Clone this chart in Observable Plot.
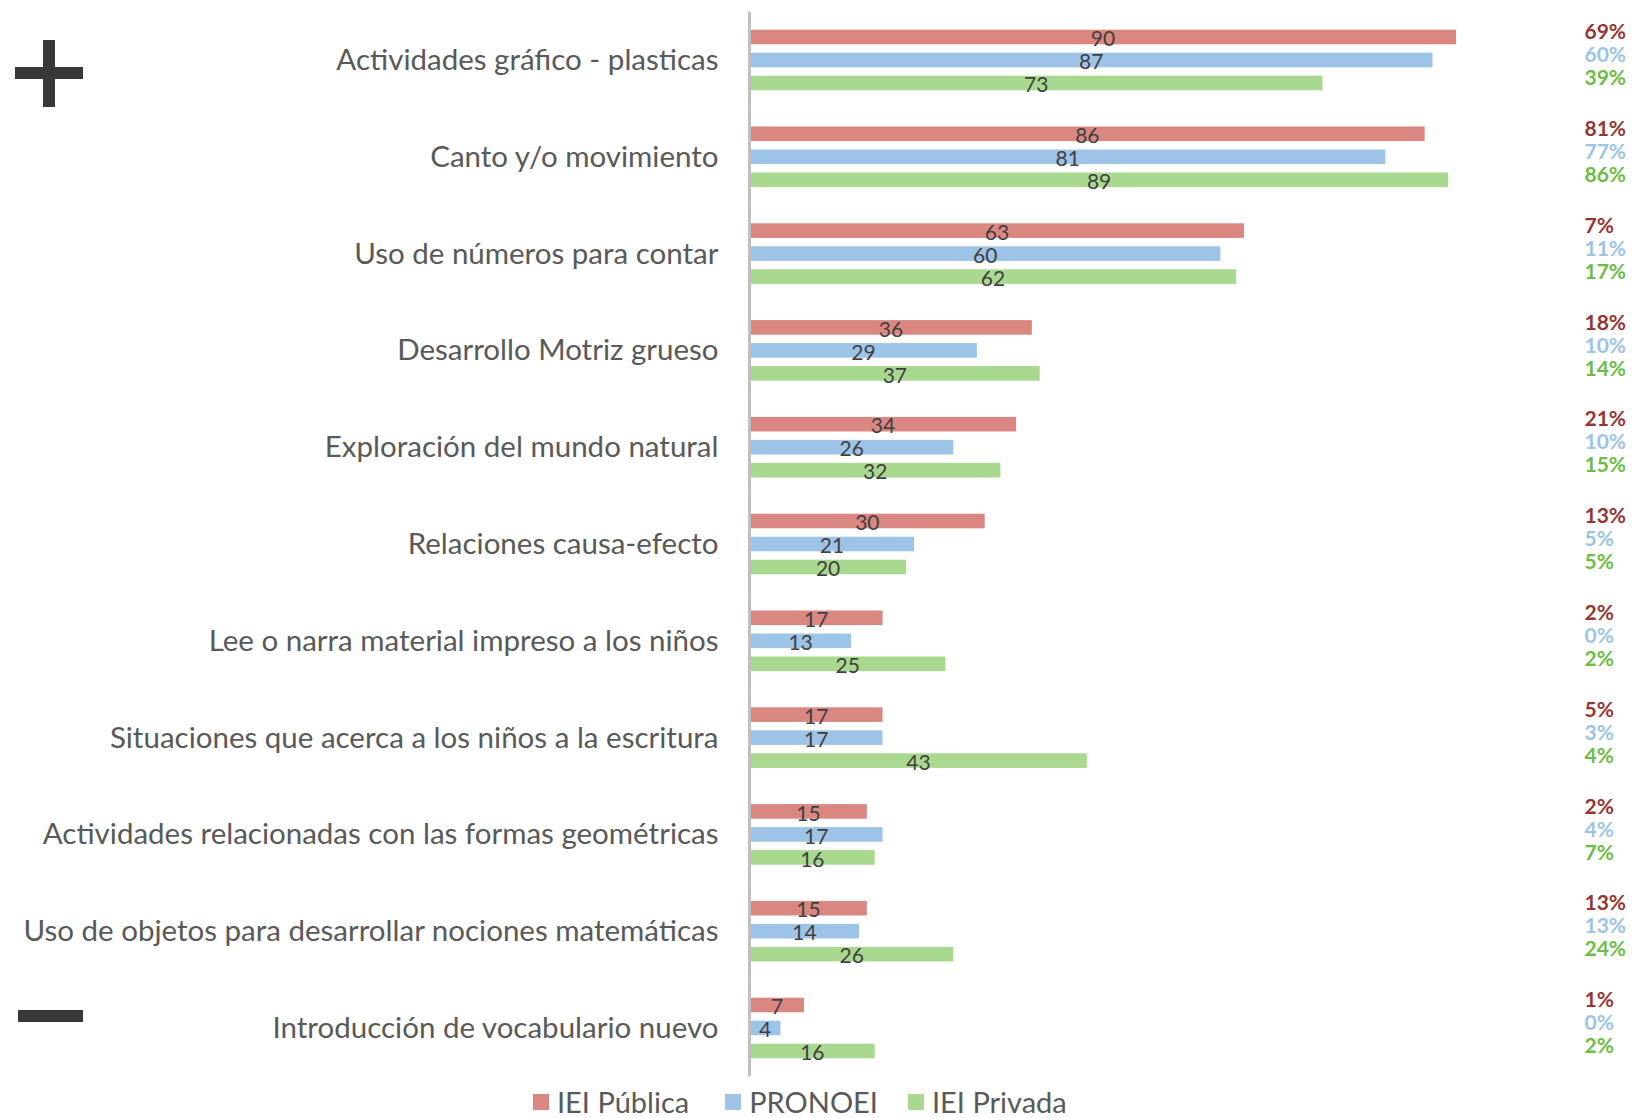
<!DOCTYPE html>
<html><head><meta charset="utf-8">
<script src="https://cdn.jsdelivr.net/npm/d3@7"></script>
<script src="https://cdn.jsdelivr.net/npm/@observablehq/plot@0.6"></script>
<style>
html,body{margin:0;padding:0;background:#fff}
body{width:1632px;height:1118px;overflow:hidden;position:relative;font-family:Lato,"Open Sans",sans-serif}
#chart{position:absolute;left:0;top:0}
.sign{position:absolute;background:#383838}
#legend{position:absolute;top:1088px;left:533px;display:flex;align-items:center;font-size:29px;color:#595959;line-height:28px;height:28px;white-space:nowrap}
#legend .item{display:flex;align-items:center;margin-right:36px}
#legend .item:nth-child(2){margin-right:30px}
#legend .sw{width:16px;height:16px;margin-right:8px}
</style></head>
<body>
<div id="chart"></div>
<div class="sign" style="left:15px;top:67px;width:68px;height:12px"></div>
<div class="sign" style="left:43px;top:40px;width:12px;height:67px"></div>
<div class="sign" style="left:18px;top:1010px;width:65px;height:12px"></div>
<div id="legend"></div>
<script>
const categories = [
  "Actividades gráfico - plasticas",
  "Canto y/o movimiento",
  "Uso de números para contar",
  "Desarrollo Motriz grueso",
  "Exploración del mundo natural",
  "Relaciones causa-efecto",
  "Lee o narra material impreso a los niños",
  "Situaciones que acerca a los niños a la escritura",
  "Actividades relacionadas con las formas geométricas",
  "Uso de objetos para desarrollar nociones matemáticas",
  "Introducción de vocabulario nuevo"
];
const series = ["IEI Pública", "PRONOEI", "IEI Privada"];
const publica = [90, 86, 63, 36, 34, 30, 17, 17, 15, 15, 7];
const pronoei = [87, 81, 60, 29, 26, 21, 13, 17, 17, 14, 4];
const privada = [73, 89, 62, 37, 32, 20, 25, 43, 16, 26, 16];
const pctPublica = [69, 81, 7, 18, 21, 13, 2, 5, 2, 13, 1];
const pctPronoei = [60, 77, 11, 10, 10, 5, 0, 3, 4, 13, 0];
const pctPrivada = [39, 86, 17, 14, 15, 5, 2, 4, 7, 24, 2];
const barColors = ["#DA8782", "#9DC3E6", "#A9D98F"];
const pctColors = ["#943634", "#9DC3E6", "#6CBD45"];

const values = [publica, pronoei, privada];
const pcts = [pctPublica, pctPronoei, pctPrivada];
const rows = categories.flatMap((c, i) => series.map((s, j) => ({
  category: c, series: s, value: values[j][i], pct: pcts[j][i]
})));

const pctMarks = series.map((s, j) => Plot.text(rows.filter(d => d.series === s), {
  fy: "category", y: "series", text: d => d.pct + "%",
  frameAnchor: "right", textAnchor: "start", dx: -8, dy: -5,
  fill: pctColors[j], fontWeight: "bold", fontSize: 21
}));

const chart = Plot.plot({
  width: 1632, height: 1085,
  marginLeft: 749, marginRight: 40, marginTop: 29.7, marginBottom: 26.7,
  x: {domain: [0, 107.3], axis: null},
  y: {domain: series, paddingInner: 0.365, paddingOuter: 0, round: false, axis: null},
  fy: {domain: categories, paddingInner: 0.374, paddingOuter: 0, round: false, axis: null},
  color: {domain: series, range: barColors},
  style: {fontFamily: "Lato, 'Open Sans', sans-serif", background: "white", overflow: "visible"},
  marks: [
    Plot.barX(rows, {fy: "category", y: "series", x: "value", fill: "series"}),
    Plot.ruleX([0], {stroke: "#BFBFBF", strokeWidth: 3, insetTop: -18.2, insetBottom: -18.2}),
    Plot.text(rows, Plot.stackX({fy: "category", y: "series", x: "value", text: d => String(d.value), fill: "#404040", fontSize: 21, dy: 2})),
    Plot.text(categories, {fy: d => d, text: d => d, frameAnchor: "left", textAnchor: "end", dx: -31, fontSize: 29.5, fill: "#595959"}),
    ...pctMarks
  ]
});
document.getElementById("chart").appendChild(chart);

const legend = document.getElementById("legend");
series.forEach((s, j) => {
  const item = document.createElement("div");
  item.className = "item";
  const sw = document.createElement("span");
  sw.className = "sw";
  sw.style.background = barColors[j];
  const t = document.createElement("span");
  t.textContent = s;
  item.appendChild(sw); item.appendChild(t);
  legend.appendChild(item);
});
</script>
</body></html>
